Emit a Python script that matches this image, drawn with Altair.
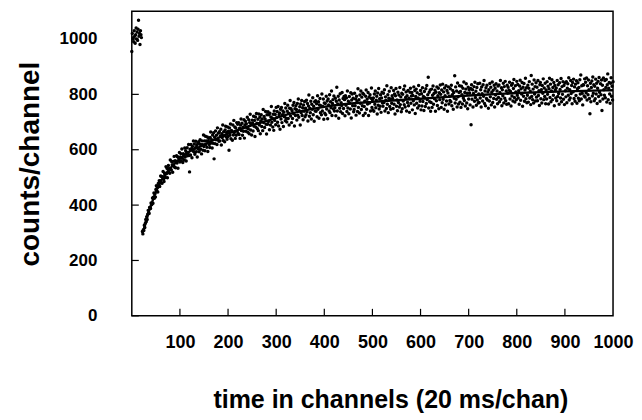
import altair as alt
import pandas as pd

# pre-bleach channels (cluster near 1000 counts)
pre_x = list(range(0, 21))
pre_y = [955, 1020, 1000, 1005, 990, 1030, 1010, 985, 1015, 1040, 1000,
         1025, 995, 1035, 1068, 1010, 1020, 980, 1030, 1015, 1005]

# post-bleach recovery, one value per channel starting at channel 22
post_start = 22
post_y = [
    305, 296, 311, 308, 327, 319, 334, 348, 340, 358, 348, 367, 381, 372, 370, 391, 391, 388, 408, 401,
    404, 426, 407, 428, 444, 425, 441, 429, 456, 470, 451, 463, 447, 478, 469, 488, 467, 488, 505, 480,
    503, 479, 501, 521, 494, 485, 516, 511, 500, 539, 513, 533, 499, 530, 543, 518, 532, 515, 563, 529,
    527, 557, 546, 519, 558, 544, 576, 537, 560, 535, 558, 578, 552, 575, 533, 572, 560, 590, 556, 574,
    586, 559, 603, 569, 554, 586, 580, 563, 606, 574, 596, 559, 590, 607, 578, 588, 619, 579, 520, 602,
    581, 619, 604, 571, 612, 596, 632, 593, 621, 584, 607, 631, 593, 615, 574, 623, 603, 629, 593, 621,
    636, 602, 618, 585, 632, 618, 598, 653, 612, 632, 596, 649, 619, 632, 609, 646, 594, 632, 641, 619,
    608, 644, 664, 624, 636, 606, 653, 623, 661, 567, 645, 622, 668, 636, 652, 619, 679, 637, 660, 631,
    665, 632, 650, 674, 617, 658, 644, 689, 633, 665, 651, 629, 671, 685, 647, 662, 638, 682, 648, 667,
    598, 679, 652, 693, 640, 670, 666, 634, 689, 653, 706, 662, 682, 641, 679, 652, 698, 667, 692, 659,
    698, 655, 678, 641, 689, 711, 669, 696, 652, 681, 667, 708, 642, 689, 703, 667, 694, 679, 717, 663,
    676, 708, 658, 698, 728, 671, 692, 653, 707, 697, 668, 721, 685, 706, 648, 718, 681, 731, 696, 676,
    710, 669, 729, 689, 717, 658, 704, 726, 684, 711, 669, 745, 698, 720, 680, 711, 738, 692, 657, 726,
    692, 737, 702, 726, 672, 732, 689, 718, 756, 699, 714, 682, 728, 670, 740, 706, 727, 690, 753, 716,
    738, 699, 756, 686, 726, 733, 674, 746, 711, 753, 698, 726, 740, 684, 735, 719, 767, 705, 751, 714,
    700, 739, 761, 713, 732, 689, 750, 778, 722, 748, 698, 741, 713, 761, 731, 771, 686, 748, 724, 759,
    745, 707, 767, 725, 783, 717, 741, 755, 689, 765, 734, 778, 724, 752, 708, 762, 739, 774, 719, 750,
    726, 779, 737, 767, 704, 758, 798, 721, 750, 734, 775, 711, 764, 746, 788, 726, 757, 703, 773, 740,
    777, 739, 766, 719, 795, 746, 773, 714, 762, 785, 734, 759, 726, 801, 740, 756, 783, 710, 769, 732,
    767, 726, 793, 747, 776, 712, 783, 762, 740, 799, 734, 773, 752, 812, 724, 767, 781, 747, 794, 740,
    752, 786, 723, 775, 826, 740, 765, 793, 714, 780, 750, 802, 737, 770, 760, 807, 731, 785, 749, 792,
    781, 723, 795, 761, 787, 738, 812, 751, 775, 730, 792, 769, 747, 806, 715, 780, 801, 759, 786, 737,
    745, 804, 759, 783, 725, 793, 775, 738, 820, 753, 781, 733, 798, 768, 812, 745, 790, 759, 804, 724,
    800, 756, 775, 732, 793, 816, 746, 782, 765, 807, 724, 790, 769, 799, 740, 786, 823, 753, 781, 744,
    787, 739, 801, 764, 812, 752, 779, 793, 729, 805, 761, 821, 747, 784, 757, 799, 735, 787, 808, 769,
    757, 804, 771, 817, 740, 791, 779, 749, 831, 764, 799, 734, 786, 811, 756, 783, 746, 824, 768, 795,
    785, 749, 814, 764, 801, 729, 795, 821, 757, 780, 741, 808, 771, 798, 754, 825, 763, 791, 737, 804,
    748, 800, 776, 818, 763, 830, 754, 789, 809, 740, 795, 771, 814, 759, 786, 735, 808, 822, 768, 794,
    807, 744, 796, 777, 827, 762, 814, 731, 792, 819, 768, 806, 751, 787, 832, 759, 800, 775, 814, 744,
    802, 758, 824, 774, 792, 742, 810, 788, 756, 820, 767, 832, 781, 799, 862, 751, 808, 773, 816, 739,
    771, 819, 753, 797, 830, 764, 803, 784, 815, 739, 808, 777, 827, 760, 795, 822, 748, 806, 781, 834,
    800, 753, 816, 770, 837, 782, 809, 746, 823, 795, 762, 831, 776, 814, 739, 805, 827, 765, 793, 778,
    820, 773, 833, 759, 799, 814, 746, 807, 786, 867, 769, 827, 782, 812, 754, 841, 791, 765, 807, 831,
    772, 810, 753, 829, 799, 765, 822, 786, 845, 778, 807, 758, 819, 838, 769, 804, 748, 826, 783, 817,
    805, 762, 821, 690, 835, 782, 817, 754, 803, 828, 775, 844, 789, 811, 761, 825, 780, 838, 769, 801,
    771, 840, 787, 817, 754, 827, 802, 776, 835, 793, 850, 767, 812, 759, 824, 785, 833, 780, 809, 750,
    817, 776, 839, 791, 826, 762, 808, 845, 771, 815, 785, 833, 754, 822, 798, 838, 782, 812, 766, 830,
    789, 834, 773, 807, 850, 782, 824, 759, 817, 795, 840, 769, 828, 786, 847, 777, 812, 764, 833, 804,
    826, 766, 815, 844, 783, 810, 758, 833, 794, 839, 776, 821, 854, 789, 772, 831, 809, 781, 847, 797,
    836, 787, 813, 764, 830, 851, 779, 820, 801, 843, 757, 826, 793, 839, 775, 816, 858, 784, 824, 770,
    797, 833, 772, 822, 846, 787, 811, 763, 868, 792, 837, 781, 819, 769, 852, 801, 828, 776, 842, 790,
    826, 777, 850, 796, 813, 760, 835, 843, 784, 817, 769, 832, 804, 856, 781, 823, 792, 840, 766, 816,
    783, 846, 800, 829, 765, 820, 858, 789, 837, 773, 812, 853, 781, 825, 797, 843, 759, 832, 816, 787,
    823, 777, 850, 792, 835, 803, 764, 842, 818, 787, 857, 773, 828, 800, 846, 782, 832, 763, 841, 813,
    791, 846, 770, 822, 838, 797, 860, 780, 817, 787, 850, 803, 832, 766, 843, 809, 855, 785, 827, 775,
    837, 796, 849, 768, 820, 842, 786, 825, 777, 853, 801, 870, 783, 831, 804, 762, 835, 834, 794, 856,
    790, 844, 806, 859, 780, 831, 799, 852, 817, 785, 730, 840, 773, 825, 848, 794, 863, 804, 835, 777,
    829, 784, 855, 801, 840, 767, 822, 847, 792, 861, 808, 775, 838, 799, 852, 742, 833, 783, 859, 817,
    797, 850, 788, 825, 854, 772, 835, 874, 781, 822, 843, 801, 768, 840, 860, 793, 829, 780, 846,
]
post_x = list(range(post_start, post_start + len(post_y)))

# fitted recovery curve
fit_x = [22, 25, 30, 35, 40, 45, 50, 55, 60, 70, 80, 90, 100, 120, 140, 160, 180,
         200, 240, 280, 320, 360, 400, 450, 500, 600, 700, 800, 900, 1000]
fit_y = [300, 312, 345, 375, 400, 424, 448, 468, 485, 512, 533, 552, 567, 594, 610,
         627, 643, 658, 683, 704, 726, 742, 755, 766, 773, 784, 796, 805, 811, 815]

x_ticks = [100, 200, 300, 400, 500, 600, 700, 800, 900, 1000]
y_ticks = [0, 200, 400, 600, 800, 1000]
x_domain = [0, 1000]
y_domain = [0, 1100]

W, H = 482, 305
TICK = 7
FONT = "Liberation Sans"

pts = pd.DataFrame({"x": pre_x + post_x, "y": pre_y + post_y})
fit = pd.DataFrame({"x": fit_x, "y": fit_y})
xt = pd.DataFrame({"x": x_ticks[:-1]})
yt = pd.DataFrame({"y": y_ticks})

xs = alt.Scale(domain=x_domain, nice=False, zero=False)
ys = alt.Scale(domain=y_domain, nice=False)

x_axis = alt.Axis(values=x_ticks, format="d", title="time in channels (20 ms/chan)",
                  ticks=False, domain=False, grid=False, labelPadding=18, titlePadding=36,
                  labelFont=FONT, labelFontSize=18, labelFontWeight="bold",
                  labelColor="black", titleFont=FONT, titleFontSize=25,
                  titleFontWeight="bold", titleColor="black", labelFlush=False,
                  labelOverlap=False, titleX=W / 2 + 18, titleAlign="center")
y_axis = alt.Axis(values=y_ticks, format="d", title="counts/channel", ticks=False,
                  domain=False, grid=False, labelPadding=35, titlePadding=15,
                  labelFont=FONT, labelFontSize=17, labelFontWeight="bold",
                  labelColor="black", titleFont=FONT, titleFontSize=28,
                  titleFontWeight="bold", titleColor="black", labelFlush=False,
                  labelOverlap=False)

X = alt.X("x:Q", scale=xs, axis=x_axis, title="time in channels (20 ms/chan)")
Y = alt.Y("y:Q", scale=ys, axis=y_axis, title="counts/channel")

points = alt.Chart(pts).mark_circle(size=12, color="black", opacity=1).encode(x=X, y=Y)

line = alt.Chart(fit).mark_line(color="black", strokeWidth=2.4, interpolate="monotone").encode(
    x=X, y=Y)

xtick_marks = alt.Chart(xt).mark_rule(color="black", strokeWidth=1.2).encode(
    x=X, y=alt.value(H), y2=alt.value(H - TICK))

ytick_marks = alt.Chart(yt).mark_rule(color="black", strokeWidth=1.2).encode(
    y=Y, x=alt.value(0), x2=alt.value(TICK))

chart = alt.layer(points, line, xtick_marks, ytick_marks).properties(
    width=W, height=H,
    padding={"left": 8, "top": 3, "right": 0, "bottom": 2},
).configure(
    background="white",
    view=alt.ViewConfig(stroke="black", strokeWidth=1.5),
)

chart.save("out.html", embed_options={"renderer": "svg", "actions": False})
